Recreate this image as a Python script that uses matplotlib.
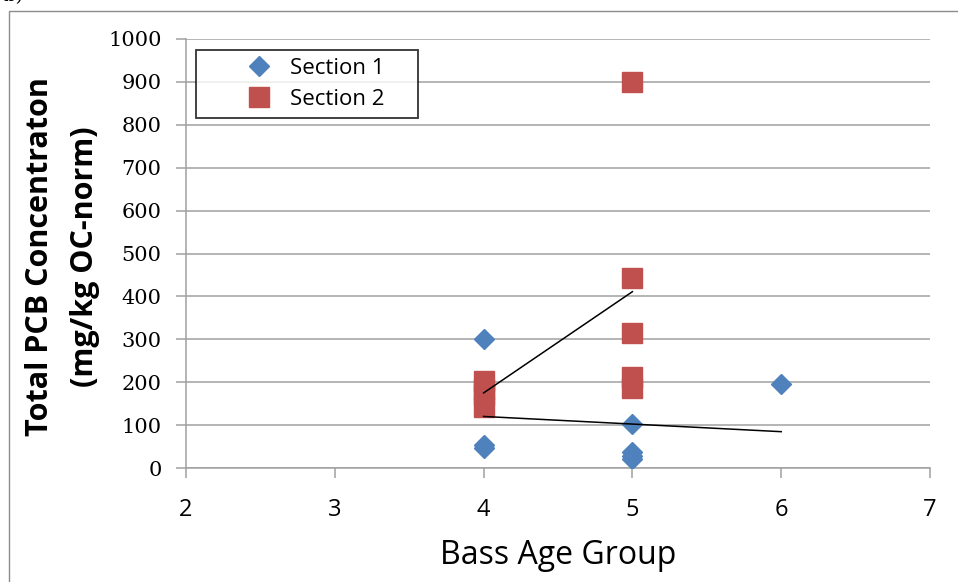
import numpy as np
import matplotlib
matplotlib.use("Agg")
import matplotlib.pyplot as plt
from matplotlib.patches import Rectangle

# ----- DATA -----
sec1_age = [4, 4, 4, 4, 5, 5, 5, 5, 6]
sec1_pcb = [300, 190, 54, 47, 103, 38, 28, 20, 195]   # 190 sits behind the red squares

sec2_age = [4, 4, 4, 4, 5, 5, 5, 5, 5]
sec2_pcb = [202, 185, 170, 143, 900, 442, 315, 211, 187]

series_names = ["Section 1", "Section 2"]
y_ticks = list(range(0, 1001, 100))
x_ticks = [2, 3, 4, 5, 6, 7]

BLUE = "#4F81BD"
RED = "#C0504D"
GRID = "#A0A0A0"
SANS_W = ["Open Sans", "DejaVu Sans"]

# --- Figure setup ---
fig = plt.figure(figsize=(9.58, 5.82), dpi=100)
ax = fig.add_axes([186/958, 1 - 468/582, 744/958, 429/582])

# outer frame of the chart object
fig.patches.append(Rectangle((9/958, -0.05), 1.2, 1 - 11/582 + 0.05,
                             transform=fig.transFigure, fill=False,
                             edgecolor="#8C8C8C", lw=1.0))
# panel tag, cut off at the top edge like the source image
fig.text(0.004, 0.999, "b)", fontsize=14, va="baseline", family="DejaVu Serif")

ax.plot(sec1_age, sec1_pcb, ls="none", marker="D", ms=10, color=BLUE,
        mec=BLUE, label=series_names[0], zorder=3)
ax.plot(sec2_age, sec2_pcb, ls="none", marker="s", ms=14, color=RED,
        mec=RED, label=series_names[1], zorder=4)

# linear trendlines over each series
for xs, ys in [(sec1_age, sec1_pcb), (sec2_age, sec2_pcb)]:
    k, b = np.polyfit(xs, ys, 1)
    xx = np.array([min(xs), max(xs)])
    ax.plot(xx, k * xx + b, color="black", lw=1.1, zorder=5)

ax.set_xlim(2, 7)
ax.set_ylim(0, 1000)
ax.set_xticks(x_ticks)
ax.set_yticks(y_ticks)
ax.set_xticklabels([str(t) for t in x_ticks], family=SANS_W, fontsize=17)
ax.set_yticklabels([str(t) for t in y_ticks], family="DejaVu Serif", fontsize=15)

ax.grid(axis="y", color=GRID, lw=1.1)
ax.set_axisbelow(True)
for s in ["top", "right"]:
    ax.spines[s].set_visible(False)
for s in ["left", "bottom"]:
    ax.spines[s].set_color(GRID)
    ax.spines[s].set_linewidth(1.1)
ax.tick_params(axis="both", color=GRID, width=1.1, length=7.5)
ax.tick_params(axis="y", pad=10)
ax.tick_params(axis="x", pad=14)

ax.set_ylabel("Total PCB Concentraton\n(mg/kg OC-norm)", family=SANS_W,
              fontsize=22, fontweight="bold", linespacing=1.65)
ax.yaxis.set_label_coords(-0.115, 0.492)
ax.set_xlabel("Bass Age Group", family=SANS_W, fontsize=23)
ax.xaxis.set_label_coords(0.5, -0.165)

leg = ax.legend(loc="upper left", bbox_to_anchor=(10/744, 1 - 11/429, 222/744, 0.0),
                mode="expand", prop={"family": SANS_W, "size": 16},
                borderpad=0.35, handlelength=5.0, handletextpad=-1.1,
                labelspacing=0.45, borderaxespad=0, fancybox=False)
leg.get_frame().set_edgecolor("black")
leg.get_frame().set_linewidth(1.3)

fig.savefig("out.png", dpi=100)
